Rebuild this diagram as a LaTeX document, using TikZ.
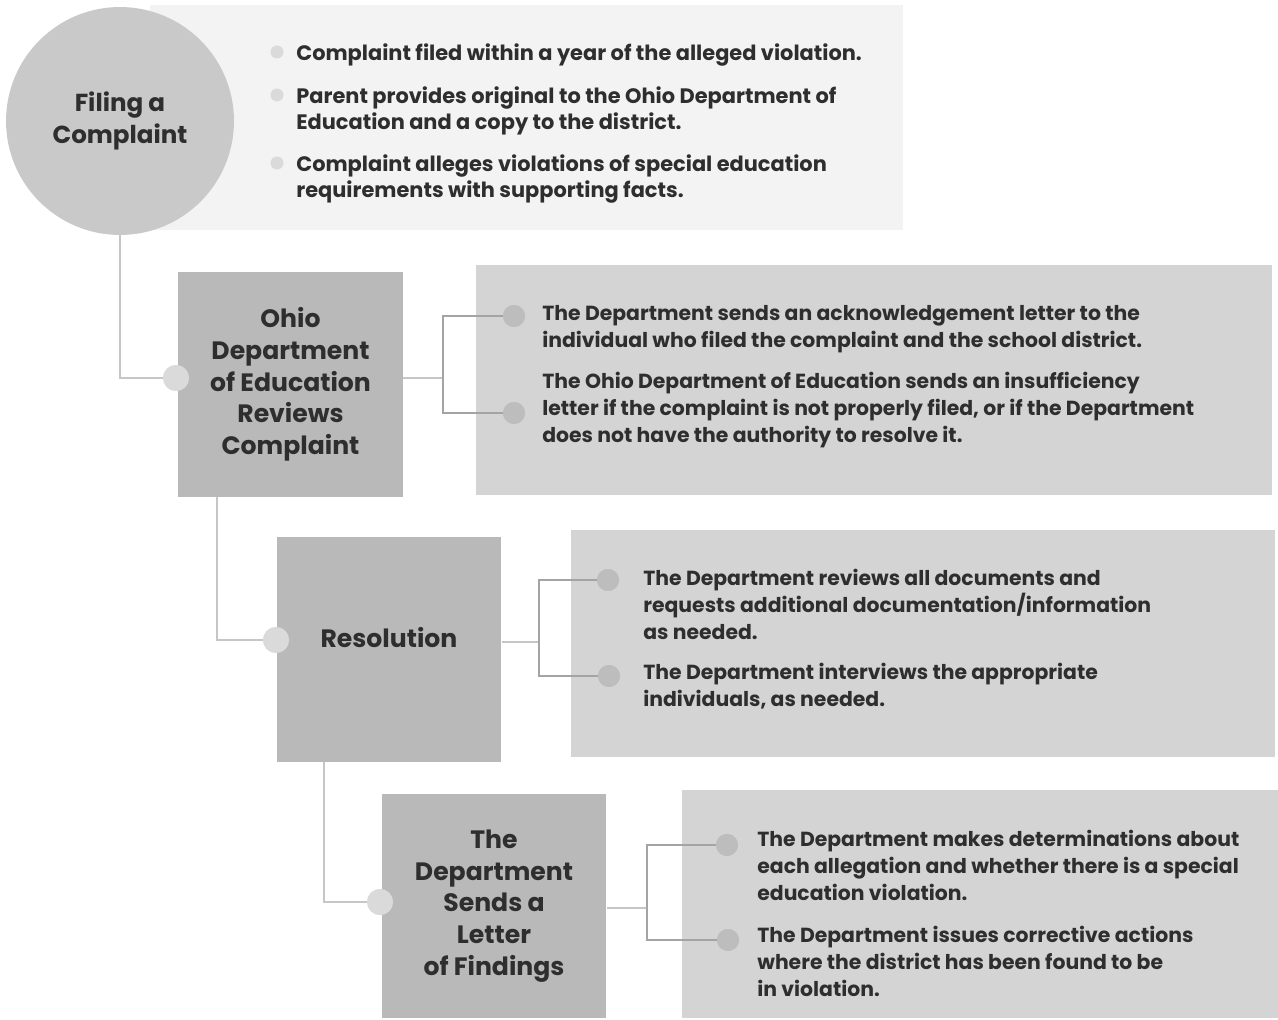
\documentclass[tikz,border=0pt]{standalone}
\usepackage{fontspec}
\setmainfont{Poppins}
\usetikzlibrary{positioning}

\definecolor{inkgray}{HTML}{2E2E2E}
\definecolor{circgray}{HTML}{C9C9C9}
\definecolor{boxgray}{HTML}{B9B9B9}
\definecolor{panelgray}{HTML}{D4D4D4}
\definecolor{toppanel}{HTML}{F3F3F3}
\definecolor{jointgray}{HTML}{DADADA}
\definecolor{dotgray}{HTML}{BDBDBD}
\definecolor{linegray}{HTML}{C6C6C6}
\definecolor{brackgray}{HTML}{A4A4A4}

\tikzset{
  stepbox/.style={fill=boxgray, minimum width=4.5cm, minimum height=4.5cm,
    inner sep=0pt, align=center, text=inkgray,
    font=\fontsize{14.3}{18}\selectfont\bfseries},
  panel/.style={fill=panelgray, inner sep=0pt},
  joint/.style={circle, fill=jointgray, minimum size=0.52cm, inner sep=0pt},
  bullet/.style={circle, fill=dotgray, minimum size=0.44cm, inner sep=0pt},
  smallbullet/.style={circle, fill=jointgray, minimum size=0.26cm, inner sep=0pt},
  note/.style={anchor=north west, align=left, inner sep=0pt, text=inkgray,
    font=\fontsize{11.6}{15.3}\selectfont\bfseries},
  link/.style={draw=linegray, line width=1.1pt},
  brack/.style={draw=brackgray, line width=0.7pt}
}

\begin{document}
\begin{tikzpicture}[x=0.02cm,y=-0.02cm]
\useasboundingbox (0,0) rectangle (1278,1020);

% first step: the circle and its light panel
\node[fill=toppanel, minimum width=15.06cm, minimum height=4.5cm, inner sep=0pt,
  anchor=north west] (p1) at (150,5) {};
\node[circle, fill=circgray, minimum size=4.56cm, inner sep=0pt, align=center,
  text=inkgray, font=\fontsize{14}{18.2}\selectfont\bfseries] (filing) at (120,121)
  {Filing a\\Complaint};
\node[smallbullet] (c1) at (277,52) {};
\node[smallbullet] (c2) at (277,95) {};
\node[smallbullet] (c3) at (277,163) {};
\node[note, font=\fontsize{11.9}{15.3}\selectfont\bfseries] (t11) at (296,43) {Complaint filed within a year of the alleged violation.};
\node[note, font=\fontsize{11.9}{15.3}\selectfont\bfseries] (t12) at (296,86) {Parent provides original to the Ohio Department of\\Education and a copy to the district.};
\node[note, font=\fontsize{11.9}{15.3}\selectfont\bfseries] (t13) at (296,154) {Complaint alleges violations of special education\\requirements with supporting facts.};

% second step
\node[stepbox] (review) at (290.5,384.5) {Ohio\\Department\\of Education\\Reviews\\Complaint};
\node[panel, minimum width=15.92cm, minimum height=4.6cm, anchor=north west] (p2) at (476,265) {};
\node[joint] (j2) at (176,378) {};
\coordinate (k2) at (443,378);
\node[bullet] (a21) at (514,316) {};
\node[bullet] (a22) at (514,413) {};
\node[note] (t21) at (542,305) {The Department sends an acknowledgement letter to the\\individual who filed the complaint and the school district.};
\node[note] (t22) at (542,372) {The Ohio Department of Education sends an insufficiency\\letter if the complaint is not properly filed, or if the Department\\does not have the authority to resolve it.};

% third step
\node[stepbox] (resolve) at (389,649.5) {\raisebox{0.23cm}[\height][\depth]{Resolution}};
\node[panel, minimum width=14.08cm, minimum height=4.54cm, anchor=north west] (p3) at (571,530) {};
\node[joint] (j3) at (276,640) {};
\coordinate (k3) at (539,642);
\node[bullet] (a31) at (608,580) {};
\node[bullet] (a32) at (609,676) {};
\node[note] (t31) at (643,569) {The Department reviews all documents and\\requests additional documentation/information\\as needed.};
\node[note] (t32) at (643,663) {The Department interviews the appropriate\\individuals, as needed.};

% fourth step
\node[stepbox] (letter) at (494,906) {The\\Department\\Sends a\\Letter\\of Findings};
\node[panel, minimum width=11.92cm, minimum height=4.56cm, anchor=north west] (p4) at (682,790) {};
\node[joint] (j4) at (380,902) {};
\coordinate (k4) at (647,908);
\node[bullet] (a41) at (727,845) {};
\node[bullet] (a42) at (728,940) {};
\node[note] (t41) at (757,830) {The Department makes determinations about\\each allegation and whether there is a special\\education violation.};
\node[note] (t42) at (757,926) {The Department issues corrective actions\\where the district has been found to be\\in violation.};

% connectors between the steps
\draw[link] (filing.south) |- (j2);
\draw[link] (review.south -| 217,0) |- (j3);
\draw[link] (resolve.south -| 324,0) |- (j4);

% brackets to the bullets
\draw[link] (k2 -| review.east) -- (k2);
\draw[brack] (a21) -| (k2) |- (a22);
\draw[link] (k3 -| resolve.east) -- (k3);
\draw[brack] (a31) -| (k3) |- (a32);
\draw[link] (k4 -| letter.east) -- (k4);
\draw[brack] (a41) -| (k4) |- (a42);

% redraw the dots on top of the lines
\foreach \d in {j2,j3,j4}{\node[joint] at (\d) {};}
\foreach \d in {a21,a22,a31,a32,a41,a42}{\node[bullet] at (\d) {};}
\end{tikzpicture}
\end{document}
